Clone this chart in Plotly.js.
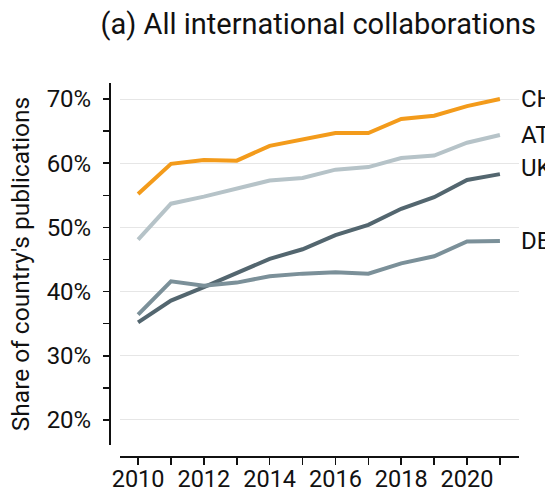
<!DOCTYPE html>
<html>
<head>
<meta charset="utf-8">
<script src="https://cdn.plot.ly/plotly-3.0.1.min.js"></script>
<style>html,body{margin:0;padding:0;background:#fff;}#chart{width:545px;height:493px;}</style>
</head>
<body>
<div id="chart"></div>
<script>
var years = [2010, 2011, 2012, 2013, 2014, 2015, 2016, 2017, 2018, 2019, 2020, 2021];
var countries = ["CH", "AT", "UK", "DE"];
var valuesCH = [55.2, 59.9, 60.5, 60.4, 62.7, 63.7, 64.7, 64.7, 66.9, 67.4, 68.9, 70.0];
var valuesAT = [48.1, 53.7, 54.8, 56.0, 57.3, 57.7, 59.0, 59.4, 60.8, 61.2, 63.2, 64.4];
var valuesUK = [35.2, 38.6, 40.7, 42.9, 45.1, 46.6, 48.8, 50.4, 52.9, 54.7, 57.4, 58.3];
var valuesDE = [36.4, 41.6, 40.9, 41.4, 42.4, 42.8, 43.0, 42.8, 44.4, 45.5, 47.8, 47.9];
var seriesValues = [valuesCH, valuesAT, valuesUK, valuesDE];
var colors = ["#F39B1B", "#B6C3C8", "#53666F", "#7B9099"];
var labelShift = [0, 0, 6, 0];

var font = "Roboto, 'Noto Sans', sans-serif";
var textColor = "#111111";
var traces = countries.map(function (c, i) {
  return {
    x: years, y: seriesValues[i], type: "scatter", mode: "lines", name: c,
    line: {color: colors[i], width: 4}, hoverinfo: "skip"
  };
});
var annotations = countries.map(function (c, i) {
  var v = seriesValues[i];
  return {
    x: years[years.length - 1], y: v[v.length - 1], xref: "x", yref: "y",
    text: c, showarrow: false, xanchor: "left", yanchor: "middle",
    xshift: 19, yshift: labelShift[i],
    font: {family: font, size: 24, color: textColor}
  };
});

var layout = {
  width: 545, height: 493,
  margin: {l: 100, r: 26, t: 83, b: 30},
  paper_bgcolor: "#fff", plot_bgcolor: "#fff",
  showlegend: false,
  font: {family: font, size: 24, color: textColor},
  title: {
    text: "(a) All international collaborations",
    font: {family: font, size: 29, color: textColor},
    xref: "container", x: 0.584, xanchor: "center",
    yref: "container", y: 0.951, yanchor: "middle"
  },
  xaxis: {
    domain: [20 / 419, 1],
    anchor: "free", position: 7 / 380,
    range: [2009.45, 2021.58],
    tick0: 2010, dtick: 2,
    ticks: "outside", ticklen: 7, tickwidth: 1.5, tickcolor: textColor,
    ticklabelstandoff: -6,
    showline: true, linecolor: textColor, linewidth: 1.5,
    showgrid: false, zeroline: false,
    minor: {dtick: 1, tick0: 2010, ticks: "outside", ticklen: 7, tickwidth: 1.5, tickcolor: textColor, showgrid: false},
    tickfont: {family: font, size: 23.5, color: textColor}
  },
  yaxis: {
    domain: [18 / 380, 1],
    anchor: "free", position: 9 / 419,
    range: [16.1, 72.5],
    tick0: 0, dtick: 10, ticksuffix: "%",
    ticks: "outside", ticklen: 6, tickwidth: 1.5, tickcolor: textColor,
    ticklabelstandoff: 7,
    showline: true, linecolor: textColor, linewidth: 1.5,
    showgrid: true, gridcolor: "#e6e6e6", gridwidth: 1, zeroline: false,
    minor: {dtick: 5, tick0: 0, ticks: "outside", ticklen: 6, tickwidth: 1.5, tickcolor: textColor, showgrid: false},
    tickfont: {family: font, size: 24, color: textColor},
    title: {text: "Share of country's publications", standoff: 8, font: {family: font, size: 24.5, color: textColor}}
  },
  annotations: annotations
};

Plotly.newPlot("chart", traces, layout, {displayModeBar: false, staticPlot: true});
</script>
</body>
</html>
